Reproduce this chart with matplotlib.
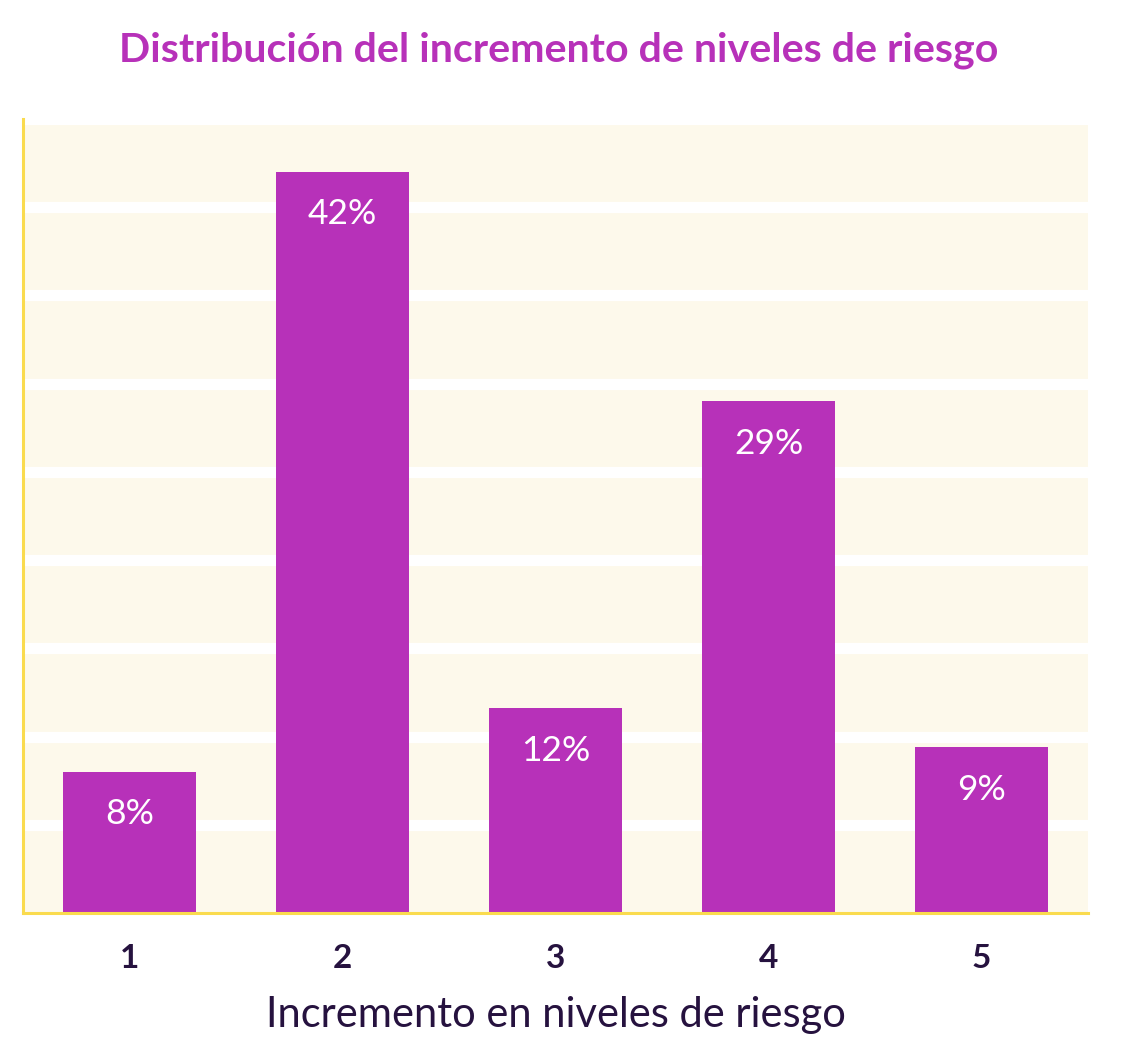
import matplotlib
matplotlib.use("Agg")
import matplotlib.pyplot as plt

# datos
niveles = [1, 2, 3, 4, 5]
porcentajes = [8, 42, 11.6, 29, 9.4]
etiquetas = ["8%", "42%", "12%", "29%", "9%"]

titulo = "Distribución del incremento de niveles de riesgo"
xlabel = "Incremento en niveles de riesgo"

morado = "#B731B9"
amarillo = "#FADB4E"
crema = "#FDF9EB"
oscuro = "#26123F"

plt.rcParams["font.family"] = ["Lato", "DejaVu Sans"]

fig = plt.figure(figsize=(11.3, 10.52), dpi=100)
ax = fig.add_axes([23 / 1130, 1 - 913 / 1052, (1088 - 23) / 1130, (913 - 119) / 1052])
ax.set_facecolor(crema)

bars = ax.bar(niveles, porcentajes, width=0.625, color=morado, zorder=3)

for b, txt in zip(bars, etiquetas):
    ax.annotate(txt, (b.get_x() + b.get_width() / 2, b.get_height()),
                xytext=(0, -30.5), textcoords="offset points",
                ha="center", va="center", color="white", fontsize=25.5, zorder=4)

ax.set_xlim(0.5, 5.5)
ax.set_ylim(0, 45)
ax.set_yticks(range(5, 50, 5))
ax.yaxis.grid(True, color="white", linewidth=8, zorder=1)
ax.set_axisbelow(True)
ax.tick_params(axis="y", left=False, labelleft=False)
ax.set_xticks(niveles)
ax.set_xticklabels([str(n) for n in niveles], fontsize=24, fontweight="bold", color=oscuro)
ax.tick_params(axis="x", length=0, pad=22)

for s in ["top", "right"]:
    ax.spines[s].set_visible(False)
for s in ["left", "bottom"]:
    ax.spines[s].set_color(amarillo)
    ax.spines[s].set_linewidth(2.2)
    ax.spines[s].set_zorder(5)

ax.set_xlabel(xlabel, fontsize=30, color=oscuro, labelpad=17)
fig.text(559 / 1130, 1 - 50 / 1052, titulo, ha="center", va="center",
         fontsize=29.6, fontweight="bold", color=morado)

fig.savefig("out.png", dpi=100, facecolor="white")
